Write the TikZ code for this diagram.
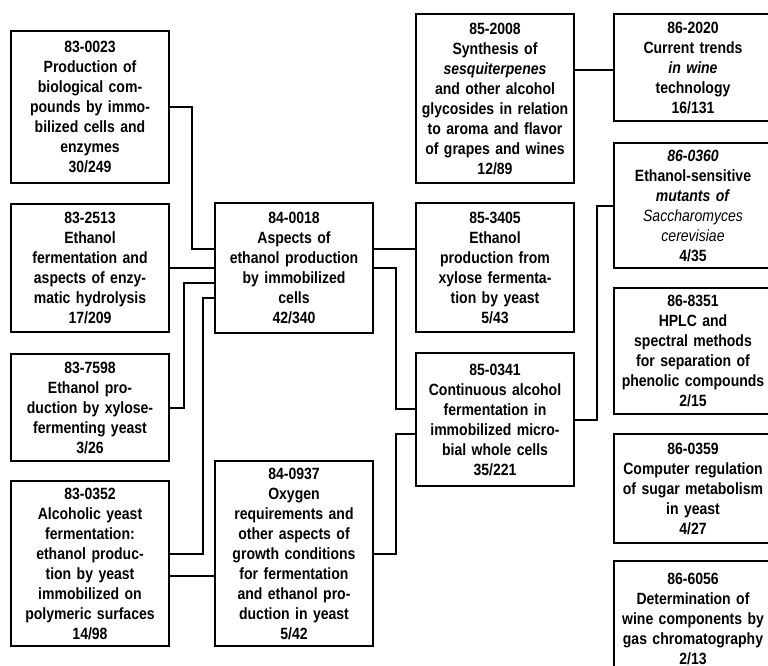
\documentclass[tikz,border=0pt]{standalone}
\usepackage{fontspec}
\setmainfont{Liberation Sans}[FakeStretch=0.86]
\usepackage{tikz}
\usetikzlibrary{calc}

\begin{document}
\begin{tikzpicture}[x=1pt,y=-1pt,line width=2pt,
  paper/.style={draw,anchor=north west,text width=150pt,inner xsep=4pt,inner ysep=0pt,align=center,font=\fontsize{16.3}{20}\selectfont\bfseries}]
\useasboundingbox (0,0) rectangle (768,666);
\clip (0,0) rectangle (768,666);

\node (830023) [paper,minimum height=152pt] at (10,30) {83-0023\\Production of\\biological com-\\pounds by immo-\\bilized cells and\\enzymes\\30/249};
\node (832513) [paper,minimum height=128pt] at (10,203) {83-2513\\Ethanol\\fermentation and\\aspects of enzy-\\matic hydrolysis\\17/209};
\node (837598) [paper,minimum height=107pt] at (10,353) {83-7598\\Ethanol pro-\\duction by xylose-\\fermenting yeast\\3/26};
\node (830352) [paper,minimum height=165pt] at (10,480) {83-0352\\Alcoholic yeast\\fermentation:\\ethanol produc-\\tion by yeast\\immobilized on\\polymeric surfaces\\14/98};

\node (840018) [paper,minimum height=130pt] at (214,202) {84-0018\\Aspects of\\ethanol production\\by immobilized\\cells\\42/340};
\node (840937) [paper,minimum height=185pt] at (214,460) {84-0937\\Oxygen\\requirements and\\other aspects of\\growth conditions\\for fermentation\\and ethanol pro-\\duction in yeast\\5/42};

\node (852008) [paper,minimum height=169pt] at (415,13) {85-2008\\Synthesis of\\\textit{sesquiterpenes}\\and other alcohol\\glycosides in relation\\to aroma and flavor\\of grapes and wines\\12/89};
\node (853405) [paper,minimum height=129pt] at (415,202) {85-3405\\Ethanol\\production from\\xylose fermenta-\\tion by yeast\\5/43};
\node (850341) [paper,minimum height=133pt] at (415,352) {85-0341\\Continuous alcohol\\fermentation in\\immobilized micro-\\bial whole cells\\35/221};

\node (862020) [paper,minimum height=107pt] at (613,13) {86-2020\\Current trends\\\textit{in wine}\\technology\\16/131};
\node (860360) [paper,minimum height=125pt] at (613,142) {\textit{86-0360}\\Ethanol-sensitive\\\textit{mutants of}\\\textit{\mdseries Saccharomyces}\\\textit{\mdseries cerevisiae}\\4/35};
\node (868351) [paper,minimum height=126pt] at (613,287) {86-8351\\HPLC and\\spectral methods\\for separation of\\phenolic compounds\\2/15};
\node (860359) [paper,minimum height=109pt] at (613,433) {86-0359\\Computer regulation\\of sugar metabolism\\in yeast\\4/27};
\node (866056) [paper,minimum height=115pt] at (613,560) {86-6056\\Determination of\\wine components by\\gas chromatography\\2/13};

% links into 84-0018 and 84-0937
\draw (830023.east) -- ++(22,0) |- ([yshift=19]840018.west);
\draw (832513.east) -- (840018.west);
\draw (837598.east) -- ++(14,0) |- ([yshift=-15]840018.west);
\draw ([yshift=10]830352.east) -- ++(33,0) |- ([yshift=-30]840018.west);
\draw ([yshift=-12]830352.east) -- ([yshift=-12]830352.east -| 840937.west);

% links into the 85 column
\draw ([yshift=19]840018.east) -- ([yshift=19]840018.east -| 853405.west);
\draw (840018.east) -- ++(22,0) |- ([yshift=11]850341.west);
\draw (840937.east) -- ++(22,0) |- ([yshift=-14]850341.west);

% links into the 86 column
\draw (852008.east |- 0,70) -- (862020.west |- 0,70);
\draw (850341.east) -- ++(22,0) |- (860360.west);
\end{tikzpicture}
\end{document}
